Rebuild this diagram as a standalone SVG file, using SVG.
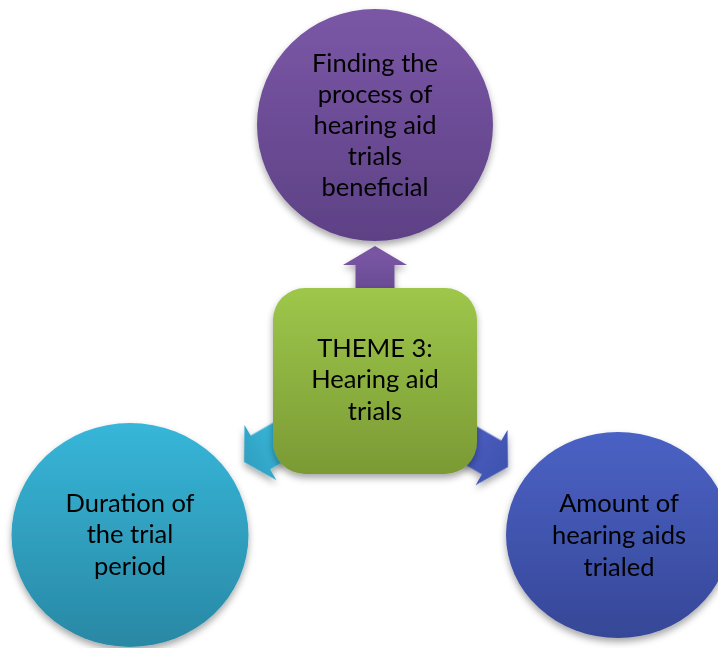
<svg xmlns="http://www.w3.org/2000/svg" width="718" height="648" viewBox="0 0 718 648">
  <defs>
    <linearGradient id="gPurple" x1="0" y1="0" x2="0" y2="1">
      <stop offset="0" stop-color="#7b57a6"/>
      <stop offset="1" stop-color="#5d4185"/>
    </linearGradient>
    <linearGradient id="gGreen" x1="0" y1="0" x2="0" y2="1">
      <stop offset="0" stop-color="#9ec74b"/>
      <stop offset="1" stop-color="#7a9a34"/>
    </linearGradient>
    <linearGradient id="gTeal" x1="0" y1="0" x2="0" y2="1">
      <stop offset="0" stop-color="#37b6d9"/>
      <stop offset="1" stop-color="#2988a4"/>
    </linearGradient>
    <linearGradient id="gBlue" x1="0" y1="0" x2="0" y2="1">
      <stop offset="0" stop-color="#4b62c5"/>
      <stop offset="1" stop-color="#364797"/>
    </linearGradient>
    <linearGradient id="gArrowPurple" x1="0" y1="0" x2="0" y2="1">
      <stop offset="0" stop-color="#7d58a7"/>
      <stop offset="1" stop-color="#674a92"/>
    </linearGradient>
    <linearGradient id="gArrowTeal" x1="0" y1="0" x2="0" y2="1">
      <stop offset="0" stop-color="#2f9fc0"/>
      <stop offset="1" stop-color="#3ab7da"/>
    </linearGradient>
    <linearGradient id="gArrowBlue" x1="0" y1="0" x2="0" y2="1">
      <stop offset="0" stop-color="#3f52ad"/>
      <stop offset="1" stop-color="#4a5ec2"/>
    </linearGradient>
    <filter id="shadow" x="-20%" y="-20%" width="140%" height="145%">
      <feDropShadow dx="0" dy="4" stdDeviation="3.5" flood-color="#000" flood-opacity="0.35"/>
    </filter>
    <!-- block arrow, tip at the origin pointing up -->
    <path id="blockArrow" d="M0,0 L32,19 L19.5,19 L19.5,48 L-19.5,48 L-19.5,19 L-32,19 Z"/>
  </defs>
  <style>
    text { font-family: Lato, "Open Sans", "Liberation Sans", sans-serif; font-size: 25.5px; fill: #000; text-anchor: middle; }
  </style>

  <rect width="718" height="648" fill="#ffffff"/>

  <g id="connectors" filter="url(#shadow)">
    <use href="#blockArrow" fill="url(#gArrowPurple)" transform="translate(375,246)"/>
    <use href="#blockArrow" fill="url(#gArrowTeal)" transform="translate(244,462) rotate(-120)"/>
    <use href="#blockArrow" fill="url(#gArrowBlue)" transform="translate(508,467) rotate(120)"/>
  </g>

  <g id="node-top">
    <ellipse cx="375" cy="125" rx="118" ry="116" fill="url(#gPurple)" filter="url(#shadow)"/>
    <text x="375" y="72">Finding the</text>
    <text x="375" y="103">process of</text>
    <text x="375" y="134">hearing aid</text>
    <text x="375" y="165">trials</text>
    <text x="375" y="196">beneficial</text>
  </g>

  <g id="node-center">
    <rect x="273" y="288" width="204" height="186" rx="32" ry="32" fill="url(#gGreen)" filter="url(#shadow)"/>
    <text x="375" y="357">THEME 3:</text>
    <text x="375" y="388">Hearing aid</text>
    <text x="375" y="420">trials</text>
  </g>

  <g id="node-left">
    <ellipse cx="130" cy="535" rx="118.5" ry="112" fill="url(#gTeal)" filter="url(#shadow)"/>
    <text x="130" y="512">Duration of</text>
    <text x="130" y="543">the trial</text>
    <text x="130" y="575">period</text>
  </g>

  <g id="node-right">
    <ellipse cx="618" cy="535" rx="112" ry="103" fill="url(#gBlue)" filter="url(#shadow)"/>
    <text x="619" y="512">Amount of</text>
    <text x="619" y="544">hearing aids</text>
    <text x="619" y="576">trialed</text>
  </g>
</svg>
